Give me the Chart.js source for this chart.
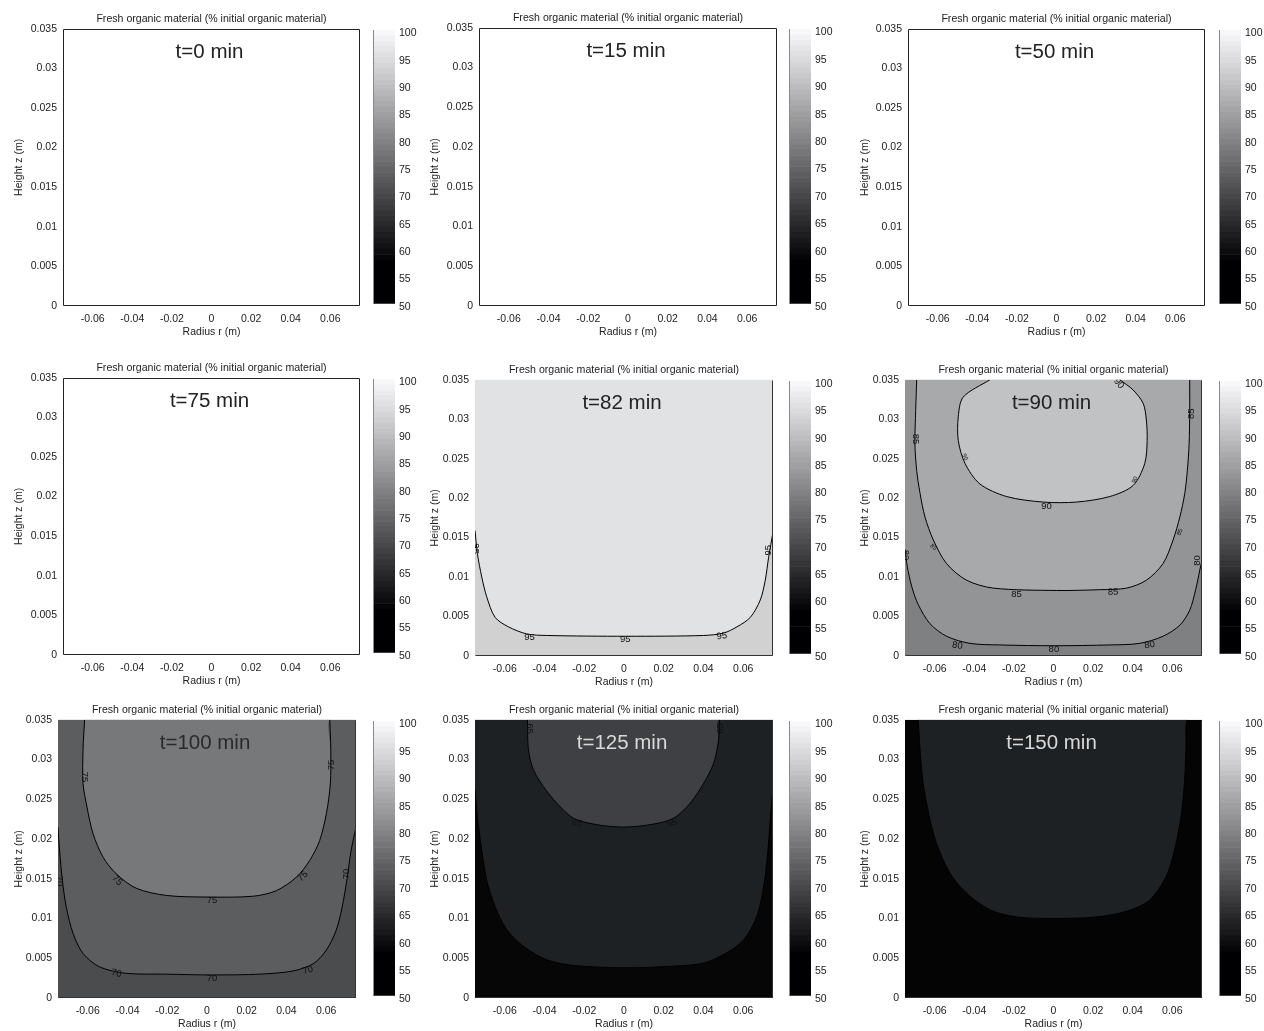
<!DOCTYPE html>
<html>
<head>
<meta charset="utf-8">
<script src="https://cdn.jsdelivr.net/npm/chart.js@4.4.1/dist/chart.umd.min.js"></script>
<style>
  html, body { margin: 0; padding: 0; background: #fff; }
  body { width: 1264px; height: 1031px; position: relative; overflow: hidden; }
  .box { position: absolute; }
  .box canvas { display: block; }
</style>
</head>
<body>
<script>
// axes
const xMin = -0.075, xMax = 0.075, yMin = 0, yMax = 0.035;
const xTicks = [-0.06, -0.04, -0.02, 0, 0.02, 0.04, 0.06];
const yTicks = [0, 0.005, 0.01, 0.015, 0.02, 0.025, 0.03, 0.035];
const cbTicks = [50, 55, 60, 65, 70, 75, 80, 85, 90, 95, 100];
const times = ['t=0 min', 't=15 min', 't=50 min', 't=75 min', 't=82 min', 't=90 min', 't=100 min', 't=125 min', 't=150 min'];

// contour lines, [r, z] in m
const c82_95 = [[-0.075,0.0159],[-0.0738,0.0130],[-0.0716,0.0100],[-0.0691,0.0075],[-0.0649,0.0049],[-0.0582,0.0037],
  [-0.0490,0.0028],[-0.0389,0.0026],[0.0014,0.0025],[0.0401,0.0026],[0.0501,0.0029],[0.0569,0.0037],[0.0636,0.0049],
  [0.0686,0.0071],[0.0711,0.0096],[0.0728,0.0125],[0.075,0.0157]];

const c90_80 = [[-0.075,0.0135],[-0.0738,0.0113],[-0.0716,0.0088],[-0.0683,0.0065],[-0.0624,0.0041],[-0.0540,0.0025],
  [-0.0422,0.0016],[-0.0271,0.0014],[0.0007,0.0013],[0.0284,0.0014],[0.0436,0.0016],[0.0553,0.0025],[0.0638,0.0039],
  [0.0688,0.0058],[0.0718,0.0084],[0.0739,0.0109],[0.075,0.0121]];
const c90_85 = [[-0.0691,0.035],[-0.0696,0.0311],[-0.0700,0.0269],[-0.0691,0.0235],[-0.0674,0.0206],[-0.0649,0.0176],
  [-0.0607,0.0147],[-0.0540,0.0117],[-0.0439,0.0096],[-0.0304,0.0086],[0.0015,0.0083],[0.0234,0.0084],[0.0369,0.0086],
  [0.0469,0.0096],[0.0553,0.0117],[0.0604,0.0147],[0.0638,0.0176],[0.0663,0.0206],[0.0676,0.0235],[0.0685,0.0269],
  [0.0688,0.0311],[0.0688,0.035]];
const c90_90 = [[-0.0321,0.035],[-0.0456,0.0328],[-0.0481,0.0303],[-0.0481,0.0273],[-0.0447,0.0244],[-0.0372,0.0218],
  [-0.0237,0.0202],[-0.0052,0.0195],[0.0116,0.0195],[0.0284,0.0202],[0.0402,0.0216],[0.0461,0.0244],[0.0473,0.0273],
  [0.0469,0.0299],[0.0453,0.0320],[0.0402,0.0337],[0.0335,0.035]];

const c100_70 = [[-0.075,0.0215],[-0.0742,0.0186],[-0.0728,0.0148],[-0.0708,0.0114],[-0.0674,0.0081],[-0.0624,0.0056],
  [-0.0540,0.0039],[-0.0406,0.0031],[-0.0205,0.0030],[0.0030,0.0029],[0.0265,0.0030],[0.0433,0.0034],[0.0534,0.0043],
  [0.0600,0.0060],[0.0650,0.0085],[0.0680,0.0114],[0.0705,0.0150],[0.0725,0.0185],[0.075,0.0215]];
const c100_75 = [[-0.0616,0.035],[-0.0624,0.0312],[-0.0624,0.0270],[-0.0604,0.0240],[-0.0574,0.0207],[-0.0523,0.0177],
  [-0.0456,0.0156],[-0.0356,0.0138],[-0.0205,0.0129],[-0.0003,0.0127],[0.0232,0.0128],[0.0349,0.0135],[0.0450,0.0152],
  [0.0517,0.0173],[0.0567,0.0198],[0.0601,0.0232],[0.0621,0.0270],[0.0623,0.0312],[0.0618,0.035]];

const c125_60 = [[-0.075,0.0262],[-0.0738,0.0228],[-0.0716,0.0186],[-0.0691,0.0148],[-0.0649,0.0115],[-0.0590,0.0086],
  [-0.0506,0.0065],[-0.0389,0.0048],[-0.0254,0.0041],[-0.0003,0.0038],[0.0249,0.0040],[0.0401,0.0044],[0.0518,0.0057],
  [0.0602,0.0073],[0.0669,0.0103],[0.0703,0.0140],[0.0723,0.0182],[0.0736,0.0224],[0.075,0.0266]];
const c125_65 = [[-0.0486,0.035],[-0.0481,0.0312],[-0.0456,0.0287],[-0.0406,0.0266],[-0.0338,0.0245],[-0.0254,0.0226],
  [-0.0137,0.0218],[-0.0003,0.0215],[0.0132,0.0218],[0.0249,0.0226],[0.0333,0.0245],[0.0401,0.0270],[0.0451,0.0295],
  [0.0476,0.0324],[0.0480,0.035]];

const c150_60 = [[-0.0683,0.035],[-0.0674,0.0312],[-0.0658,0.0270],[-0.0627,0.0228],[-0.0590,0.0194],[-0.0523,0.0157],
  [-0.0439,0.0132],[-0.0322,0.0111],[-0.0187,0.0102],[0.0014,0.0100],[0.0216,0.0102],[0.0367,0.0109],[0.0485,0.0123],
  [0.0569,0.0153],[0.0611,0.0186],[0.0644,0.0228],[0.0661,0.0270],[0.0669,0.0312],[0.0674,0.035]];

// contour labels: [r, z, text, angle deg, font size]
const lab82 = [[-0.0476,0.0023,'95',0],[0.0006,0.0021,'95',0],[0.0493,0.0025,'95',-8],
  [-0.0746,0.0136,'95',90],[0.0728,0.0134,'95',-90]];
const lab90 = [[-0.0035,0.0190,'90',0],[-0.0187,0.0078,'85',0],[0.0301,0.0081,'85',-3],
  [-0.0486,0.0013,'80',8],[0.0002,0.0008,'80',0],[0.0486,0.0014,'80',-8],
  [-0.0694,0.0275,'85',90],[0.0697,0.0307,'85',-90],
  [-0.0447,0.0252,'90',60,6],[0.0411,0.0223,'90',-60,6],[0.0330,0.0345,'90',50],
  [-0.0607,0.0138,'85',45,6],[0.0638,0.0157,'85',-70,6],
  [0.0726,0.0121,'80',-90],[-0.0746,0.0128,'80',90]];
const lab100 = [[-0.0616,0.0278,'75',90],[0.0626,0.0293,'75',-90],[-0.0453,0.0148,'75',45],[0.0483,0.0153,'75',-45],
  [0.0025,0.0123,'75',0],[-0.0456,0.0031,'70',12],[0.0025,0.0025,'70',0],[0.0508,0.0035,'70',-15],
  [0.0703,0.0156,'70',-90],[-0.0742,0.0147,'70',90]];
const lab125 = [[-0.0238,0.0220,'65',15],[0.0241,0.0220,'65',-15],[-0.0476,0.0339,'65',90],[0.0484,0.0339,'65',-90]];

// panels: background colour, contour regions (outer to inner), labels
const panels = [
  { base: '#ffffff', regions: [], labels: [], tColor: '#222' },
  { base: '#ffffff', regions: [], labels: [], tColor: '#222' },
  { base: '#ffffff', regions: [], labels: [], tColor: '#222' },
  { base: '#ffffff', regions: [], labels: [], tColor: '#222' },
  { base: '#d1d1d1', regions: [[c82_95, '#e0e2e3']], labels: lab82, tColor: '#222' },
  { base: '#7f8082', regions: [[c90_80, '#939496'], [c90_85, '#a8a9ab'], [c90_90, '#c0c2c3']], labels: lab90, tColor: '#222' },
  { base: '#4a4c4e', regions: [[c100_70, '#5b5d5f'], [c100_75, '#77787a']], labels: lab100, tColor: '#2a2a2a' },
  { base: '#060606', regions: [[c125_60, '#1e2123'], [c125_65, '#3e4043']], labels: lab125, tColor: '#d8d8d8' },
  { base: '#040404', regions: [[c150_60, '#1e2123']], labels: [], tColor: '#d8d8d8' }
];

// plot rectangles on the page
const colX = [0, 416, 846];
const cbX = [373, 789, 1219];
const layout = [
  {l: 63, t: 28, r: 360, b: 306}, {l: 479, t: 27, r: 777, b: 306}, {l: 908, t: 28, r: 1205, b: 306},
  {l: 63, t: 377, r: 360, b: 655}, {l: 475, t: 379, r: 773, b: 656}, {l: 905, t: 379, r: 1202, b: 656},
  {l: 58, t: 719, r: 356, b: 998}, {l: 475, t: 719, r: 773, b: 998}, {l: 905, t: 719, r: 1202, b: 998}
];

Chart.defaults.font.family = "'Liberation Sans', Arial, Helvetica, sans-serif";
Chart.defaults.color = '#222';

function grayOf(v) {
  const g = Math.round(Math.max(0, Math.min(1, (v - 57.5) / 42.5)) * 251);
  return 'rgb(' + g + ',' + g + ',' + Math.min(255, g + 2) + ')';
}

function fmt(v) { return String(+v.toFixed(3)); }

function xy(pts) { return pts.map(p => ({x: p[0], y: p[1]})); }

function addCanvas(left, top, w, h) {
  const div = document.createElement('div');
  div.className = 'box';
  div.style.left = left + 'px';
  div.style.top = top + 'px';
  div.style.width = w + 'px';
  div.style.height = h + 'px';
  const cv = document.createElement('canvas');
  cv.width = w; cv.height = h;
  cv.style.width = w + 'px'; cv.style.height = h + 'px';
  div.appendChild(cv);
  document.body.appendChild(div);
  return cv;
}

function makePanel(p, i) {
  const L = layout[i];
  const col = i % 3;
  const x0 = colX[col];
  const w = L.r - x0 + 3, h = L.b - L.t + 15 + 40;
  const cv = addCanvas(x0, L.t - 15, w, h);

  // background = outermost level
  const datasets = [{
    data: xy([[xMin, yMin], [xMax, yMin], [xMax, yMax], [xMin, yMax]]),
    fill: 'shape', backgroundColor: p.base, borderColor: 'rgba(0,0,0,0)', borderWidth: 0,
    pointRadius: 0, tension: 0, order: 30
  }];
  p.regions.forEach((r, k) => {
    // filled level: contour closed along the top of the plot
    datasets.push({
      data: xy(r[0].concat([[xMax, yMax], [xMin, yMax]])),
      fill: 'shape', backgroundColor: r[1], borderColor: 'rgba(0,0,0,0)', borderWidth: 0,
      pointRadius: 0, tension: 0.3, order: 20 - k
    });
    // contour line
    datasets.push({
      data: xy(r[0]),
      fill: false, borderColor: '#000', borderWidth: 1,
      pointRadius: 0, tension: 0.3, order: 5 - k
    });
  });

  const decor = {
    id: 'decor' + i,
    afterDatasetsDraw(chart) {
      const ctx = chart.ctx, a = chart.chartArea;
      const sx = chart.scales.x, sy = chart.scales.y;
      ctx.save();
      ctx.beginPath();
      ctx.rect(a.left, a.top, a.right - a.left, a.bottom - a.top);
      ctx.clip();
      ctx.textAlign = 'center';
      ctx.textBaseline = 'middle';
      ctx.fillStyle = '#111';
      p.labels.forEach(lb => {
        ctx.save();
        ctx.translate(sx.getPixelForValue(lb[0]), sy.getPixelForValue(lb[1]));
        ctx.rotate((lb[3] || 0) * Math.PI / 180);
        ctx.font = (lb[4] || 9.5) + "px 'Liberation Sans', Arial, sans-serif";
        ctx.fillText(lb[2], 0, 0);
        ctx.restore();
      });
      ctx.font = "20.5px 'Liberation Sans', Arial, sans-serif";
      ctx.fillStyle = p.tColor;
      ctx.fillText(times[i], sx.getPixelForValue(-0.001), sy.getPixelForValue(0.032));
      ctx.restore();

      // axes box; filled plots only keep the right and bottom edges
      const l = Math.round(a.left) + 0.5, t = Math.round(a.top) + 0.5;
      const r = Math.round(a.right) - 0.5, b = Math.round(a.bottom) - 0.5;
      ctx.save();
      ctx.strokeStyle = p.regions.length ? '#333' : '#222';
      ctx.lineWidth = 1;
      ctx.beginPath();
      if (p.regions.length) {
        ctx.moveTo(r, t); ctx.lineTo(r, b); ctx.lineTo(l, b);
      } else {
        ctx.rect(l, t, r - l, b - t);
      }
      ctx.stroke();
      ctx.restore();
    }
  };

  new Chart(cv, {
    type: 'line',
    data: { datasets: datasets },
    options: {
      responsive: false,
      animation: false,
      events: [],
      layout: { padding: { left: 0, right: 3, top: 0, bottom: 0 } },
      plugins: {
        legend: { display: false },
        tooltip: { enabled: false },
        title: {
          display: true,
          text: 'Fresh organic material (% initial organic material)',
          fullSize: false,
          font: { size: 10.6, weight: 'normal' },
          color: '#222',
          padding: { top: 0, bottom: 3 }
        }
      },
      scales: {
        x: {
          type: 'linear', min: xMin, max: xMax,
          afterBuildTicks: s => { s.ticks = xTicks.map(v => ({value: v})); },
          afterFit: s => { s.height = 40; },
          grid: { display: false, drawTicks: false },
          border: { display: false },
          ticks: { font: { size: 10.5 }, padding: 7, maxRotation: 0, autoSkip: false, callback: fmt },
          title: { display: true, text: 'Radius r (m)', font: { size: 10.5 }, padding: { top: 0, bottom: 8 } }
        },
        y: {
          type: 'linear', min: yMin, max: yMax,
          afterBuildTicks: s => { s.ticks = yTicks.map(v => ({value: v})); },
          afterFit: s => { s.width = L.l - x0; },
          grid: { display: false, drawTicks: false },
          border: { display: false },
          ticks: { font: { size: 10.5 }, padding: 6, autoSkip: false, callback: fmt },
          title: { display: true, text: 'Height z (m)', font: { size: 10.5 }, padding: { top: 13, bottom: 0 } }
        }
      }
    },
    plugins: [decor]
  });
}

function makeColorbar(i) {
  const L = layout[i];
  const cbL = cbX[i % 3];
  const cbW = 22, labW = 34;
  const cv = addCanvas(cbL - 1, L.t - 8, 1 + cbW + labW, L.b - L.t + 16);
  const segs = [];
  for (let v = cbTicks[0]; v < cbTicks[cbTicks.length - 1]; v += 1) segs.push(v);
  new Chart(cv, {
    type: 'bar',
    data: {
      labels: [''],
      datasets: segs.map(v => ({
        data: [[v, v + 1]],
        backgroundColor: grayOf(v + 0.5),
        borderWidth: 0,
        barPercentage: 1,
        categoryPercentage: 1,
        grouped: false
      }))
    },
    options: {
      responsive: false,
      animation: false,
      events: [],
      layout: { padding: { left: 1, right: 0, top: 8, bottom: 8 } },
      plugins: { legend: { display: false }, tooltip: { enabled: false } },
      scales: {
        x: { display: false },
        y: {
          position: 'right', min: 50, max: 100,
          afterBuildTicks: s => { s.ticks = cbTicks.map(v => ({value: v})); },
          afterFit: s => { s.width = labW; },
          grid: { display: false, drawTicks: false },
          border: { display: false },
          ticks: { font: { size: 10.5 }, padding: 4, labelOffset: 3, autoSkip: false }
        },
        yl: {
          position: 'left', min: 50, max: 100,
          afterFit: s => { s.width = 0; },
          grid: { display: false, drawTicks: false },
          border: { display: true, color: '#8a8a8a', width: 1, z: 1 },
          ticks: { display: false }
        }
      }
    }
  });
}

panels.forEach((p, i) => { makePanel(p, i); makeColorbar(i); });
</script>
</body>
</html>
